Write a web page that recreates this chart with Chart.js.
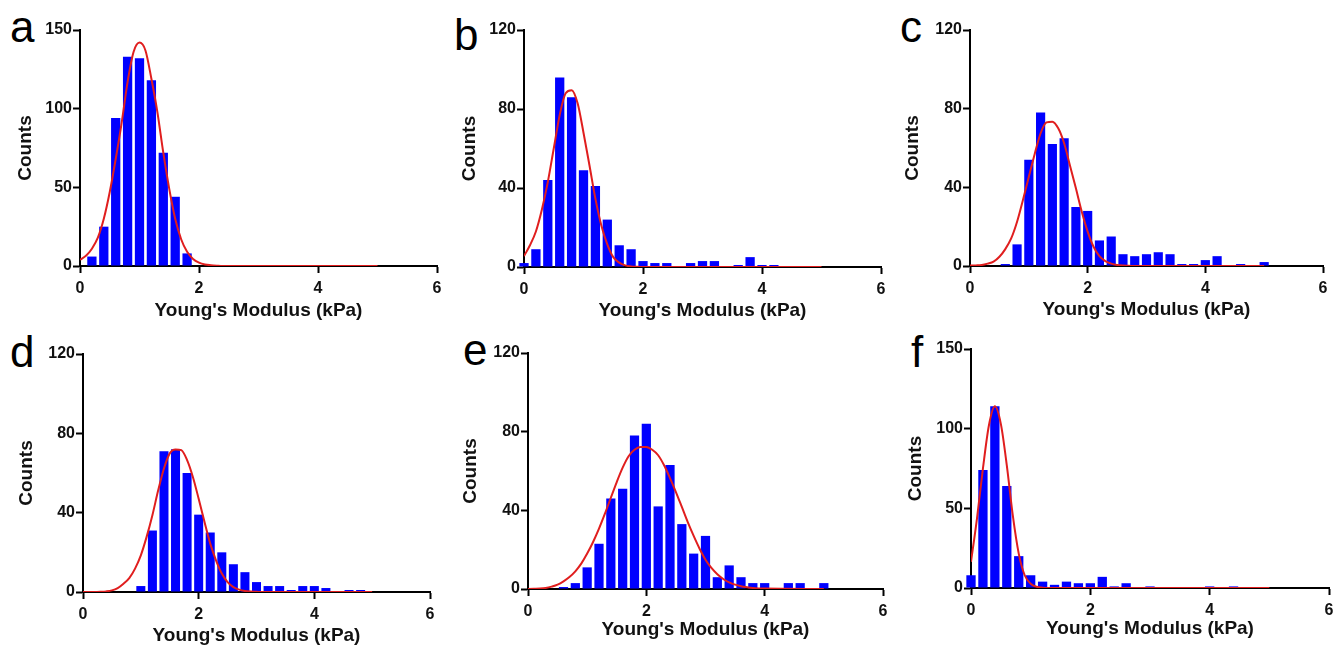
<!DOCTYPE html>
<html>
<head>
<meta charset="UTF-8">
<title>Young's Modulus - histogramas</title>
<script src="https://cdn.jsdelivr.net/npm/chart.js@4.4.0/dist/chart.umd.min.js"></script>
<style>
    body { margin: 0; background: #fff; overflow: hidden; width: 1338px; height: 648px; position: relative; }
    canvas { position: absolute; }
    .letra { position: absolute; font-family: 'Liberation Sans', Arial, sans-serif; font-size: 44px; line-height: 44px; color: #000; }
</style>
</head>
<body>
<div class="letra" style="left:10px;top:5px">a</div>
<div class="letra" style="left:454px;top:13px">b</div>
<div class="letra" style="left:900px;top:5px">c</div>
<div class="letra" style="left:10px;top:330px">d</div>
<div class="letra" style="left:463px;top:328px">e</div>
<div class="letra" style="left:911px;top:330px">f</div>

<script>
// centros das classes do histograma (kPa), largura 0.2
var binCenters = [0, 0.2, 0.4, 0.6, 0.8, 1.0, 1.2, 1.4, 1.6, 1.8, 2.0, 2.2, 2.4,
                  2.6, 2.8, 3.0, 3.2, 3.4, 3.6, 3.8, 4.0, 4.2, 4.4, 4.6, 4.8, 5.0];

// contagens de cada painel
var countsA = [0, 6, 25, 94, 133, 132, 118, 72, 44, 8, 0, 0, 0,
               0, 0, 0, 0, 0, 0, 0, 0, 0, 0, 0, 0, 0];
var countsB = [2, 9, 44, 96, 86, 49, 41, 24, 11, 9, 3, 2, 2,
               0, 2, 3, 3, 0, 1, 5, 1, 1, 0, 0, 0, 0];
var countsC = [0, 0, 0, 1, 11, 54, 78, 62, 65, 30, 28, 13, 15,
               6, 5, 6, 7, 6, 1, 1, 3, 5, 0, 1, 0, 2];
var countsD = [0, 0, 0, 0, 0, 3, 31, 71, 72, 60, 39, 30, 20,
               14, 10, 5, 3, 3, 1, 3, 3, 2, 0, 1, 1, 0];
var countsE = [0, 0, 0, 1, 3, 11, 23, 46, 51, 78, 84, 42, 63,
               33, 18, 27, 6, 12, 6, 3, 3, 0, 3, 3, 0, 3];
var countsF = [8, 74, 114, 64, 20, 8, 4, 2, 4, 3, 3, 7, 1,
               3, 0, 1, 0, 0, 0, 0, 1, 0, 1, 0, 0, 0];

// curva ajustada nos pontos fitX
var fitX = [0, 0.1, 0.2, 0.3, 0.4, 0.5, 0.6, 0.7, 0.8, 0.9, 1.0, 1.1, 1.2, 1.3,
            1.4, 1.5, 1.6, 1.7, 1.8, 1.9, 2.0, 2.1, 2.2, 2.3, 2.4, 2.5, 2.6, 2.7,
            2.8, 2.9, 3.0, 3.1, 3.2, 3.3, 3.4, 3.5, 3.6, 3.7, 3.8, 3.9, 4.0, 5.0];
var fitA = [4, 6.5, 11, 18, 30, 47, 68, 91, 117, 136, 142, 137, 119, 98,
            72, 49, 30, 17, 9, 4.5, 2.2, 1, 0.5, 0.2, 0, 0, 0, 0,
            0, 0, 0, 0, 0, 0, 0, 0, 0, 0, 0, 0, 0, 0];
var fitB = [5.5, 11, 18, 29, 43, 60, 77, 88, 89.5, 83, 68, 51.5, 34.6, 21,
            11.5, 5, 2.2, 0.8, 0.3, 0.1, 0, 0, 0, 0, 0, 0, 0, 0,
            0, 0, 0, 0, 0, 0, 0, 0, 0, 0, 0, 0, 0, 0];
var fitC = [0.2, 0.3, 0.5, 1.2, 2.2, 4.7, 8.6, 14, 22.5, 33.6, 45.4, 57, 67.5, 73,
            73.4, 70, 62.4, 51, 39.5, 27.6, 17.5, 9.8, 5, 2.5, 1.2, 0.5, 0.2, 0.1,
            0, 0, 0, 0, 0, 0, 0, 0, 0, 0, 0, 0, 0, 0];
var fitD = [0, 0, 0, 0.1, 0.3, 0.8, 2, 4.2, 7, 11.8, 18.5, 27.8, 38.7, 51.3,
            62.3, 69.9, 71.9, 71.5, 66.5, 58, 47, 35.4, 24.4, 16, 9.3, 5, 2.5, 1.2,
            0.5, 0.2, 0.1, 0, 0, 0, 0, 0, 0, 0, 0, 0, 0, 0];
var fitE = [0, 0.1, 0.2, 0.5, 1.2, 2.2, 3.9, 6.1, 9, 12.9, 18, 23.9, 30.7, 38.3,
            46.4, 54.4, 61.7, 67.5, 70.8, 72.2, 72.2, 70.8, 68, 62.9, 56.4, 49.3, 41.7, 34,
            27, 20.5, 14.9, 10.7, 7.5, 5.1, 3.4, 2.2, 1.4, 0.9, 0.5, 0.3, 0.2, 0];
var fitF = [16.4, 43.6, 75, 102, 114, 103, 77, 45.7, 21.6, 8, 2.7, 0.8, 0.2, 0,
            0, 0, 0, 0, 0, 0, 0, 0, 0, 0, 0, 0, 0, 0,
            0, 0, 0, 0, 0, 0, 0, 0, 0, 0, 0, 0, 0, 0];

// marcas dos eixos
var xTicks = [0, 2, 4, 6];
var yTicks150 = [0, 50, 100, 150];
var yTicks120 = [0, 40, 80, 120];

var xTitle = "Young's Modulus (kPa)";
var yTitle = "Counts";

// posição da área do gráfico de cada painel [esq, topo, dir, base]
var paineis = [
    { id: 'a', counts: countsA, fit: fitA, yTicks: yTicks150, area: [80, 30, 437, 266], padY: 14, padX: 0 },
    { id: 'b', counts: countsB, fit: fitB, yTicks: yTicks120, area: [524, 30, 881, 267], padY: 14, padX: 1 },
    { id: 'c', counts: countsC, fit: fitC, yTicks: yTicks120, area: [970, 30, 1323, 266], padY: 11, padX: 1 },
    { id: 'd', counts: countsD, fit: fitD, yTicks: yTicks120, area: [83, 354, 430, 592], padY: 12, padX: 1 },
    { id: 'e', counts: countsE, fit: fitE, yTicks: yTicks120, area: [528, 353, 883, 589], padY: 11, padX: 4 },
    { id: 'f', counts: countsF, fit: fitF, yTicks: yTicks150, area: [971, 349, 1329, 588], padY: 13, padX: 4 }
];

var fonte = "'Liberation Sans', Arial, sans-serif";
var LARG_Y = 80, ALT_X = 56, PAD_TOPO = 12, PAD_DIR = 14;

paineis.forEach(function (p) {
    var L = p.area[0], T = p.area[1], R = p.area[2], B = p.area[3];
    var canvas = document.createElement('canvas');
    canvas.width = (R - L) + LARG_Y + PAD_DIR;
    canvas.height = (B - T) + PAD_TOPO + ALT_X;
    canvas.style.left = (L - LARG_Y) + 'px';
    canvas.style.top = (T - PAD_TOPO) + 'px';
    document.body.appendChild(canvas);

    var barras = binCenters.map(function (x, i) { return { x: x, y: p.counts[i] }; });
    var curva = fitX.map(function (x, i) { return { x: x, y: p.fit[i] }; });
    var yMax = p.yTicks[p.yTicks.length - 1];

    new Chart(canvas.getContext('2d'), {
        type: 'bar',
        data: {
            datasets: [
                {
                    type: 'line',
                    data: curva,
                    borderColor: '#e01e1e',
                    borderWidth: 2,
                    pointRadius: 0,
                    cubicInterpolationMode: 'monotone',
                    order: 0
                },
                {
                    type: 'bar',
                    data: barras,
                    backgroundColor: '#0000ff',
                    borderWidth: 0,
                    barPercentage: 0.78,
                    categoryPercentage: 1,
                    clip: false,
                    order: 1
                }
            ]
        },
        options: {
            responsive: false,
            animation: false,
            layout: { padding: { left: 0, top: PAD_TOPO, right: PAD_DIR, bottom: 0 } },
            plugins: { legend: { display: false }, tooltip: { enabled: false } },
            scales: {
                x: {
                    type: 'linear',
                    min: xTicks[0],
                    max: xTicks[xTicks.length - 1],
                    offset: false,
                    afterBuildTicks: function (s) { s.ticks = xTicks.map(function (v) { return { value: v }; }); },
                    afterFit: function (s) { s.height = ALT_X; },
                    grid: { offset: false, drawOnChartArea: false, drawTicks: true, tickLength: 7, tickWidth: 2, tickColor: '#000' },
                    border: { display: true, color: '#000', width: 2 },
                    ticks: { color: '#111', padding: 6, font: { family: fonte, size: 16, weight: 'bold' } },
                    title: { display: true, text: xTitle, color: '#111', padding: { top: 0, bottom: p.padX },
                             font: { family: fonte, size: 19, weight: 'bold' } }
                },
                y: {
                    min: 0,
                    max: yMax,
                    afterBuildTicks: function (s) { s.ticks = p.yTicks.map(function (v) { return { value: v }; }); },
                    afterFit: function (s) { s.width = LARG_Y; },
                    grid: { drawOnChartArea: false, drawTicks: true, tickLength: 7, tickWidth: 2, tickColor: '#000' },
                    border: { display: true, color: '#000', width: 2 },
                    ticks: { color: '#111', padding: 1, font: { family: fonte, size: 16, weight: 'bold' } },
                    title: { display: true, text: yTitle, color: '#111', padding: { top: p.padY, bottom: 0 },
                             font: { family: fonte, size: 19, weight: 'bold' } }
                }
            }
        }
    });
});
</script>
</body>
</html>
